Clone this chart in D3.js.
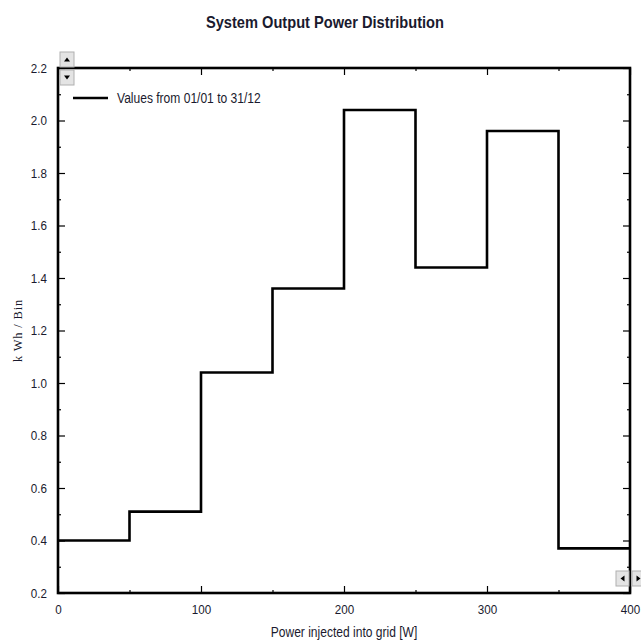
<!DOCTYPE html>
<html>
<head>
<meta charset="utf-8">
<script src="https://cdn.jsdelivr.net/npm/d3@7"></script>
<style>
  body { margin: 0; background: #fff; }
  text { font-family: "Liberation Sans Narrow", "Arial Narrow", "Liberation Sans", sans-serif; fill: #1a1a2e; }
</style>
</head>
<body>
<svg id="chart" width="641" height="641"></svg>
<script>
// bins of injected power [W] and energy per bin
const binEdges = [0, 50, 100, 150, 200, 250, 300, 350, 400];
const binValues = [0.40, 0.51, 1.04, 1.36, 2.04, 1.44, 1.96, 0.37];
const xTicks = [0, 100, 200, 300, 400];
const yTicks = [0.2, 0.4, 0.6, 0.8, 1.0, 1.2, 1.4, 1.6, 1.8, 2.0, 2.2];

const margin = { left: 58, right: 11, top: 68, bottom: 48 };
const width = 641, height = 641;
const innerWidth = width - margin.left - margin.right;
const innerHeight = height - margin.top - margin.bottom;

const svg = d3.select("#chart");
const g = svg.append("g").attr("transform", `translate(${margin.left},${margin.top})`);

const x = d3.scaleLinear().domain([0, 400]).range([0, innerWidth]);
const y = d3.scaleLinear().domain([0.2, 2.2]).range([innerHeight, 0]);

// step line
let pts = [];
binValues.forEach((v, i) => {
    pts.push([binEdges[i], v]);
    pts.push([binEdges[i + 1], v]);
});
const line = d3.line().x(d => x(d[0])).y(d => y(d[1]));
g.append("path")
    .datum(pts)
    .attr("d", line)
    .attr("fill", "none")
    .attr("stroke", "#000")
    .attr("stroke-width", 2.6);

// axes, ticks pointing inward
const yMinor = d3.range(0.3, 2.2, 0.2);
const xMinor = [50, 150, 250, 350];

function axisStyle(sel) {
    sel.select(".domain").remove();
    sel.selectAll("line").attr("stroke", "#000").attr("stroke-width", 1.2);
    sel.selectAll("text").style("font-size", "13.5px");
}

g.append("g")
    .call(d3.axisLeft(y).tickValues(yTicks).tickSize(-7).tickPadding(11).tickFormat(d3.format(".1f")))
    .call(axisStyle);
g.append("g")
    .call(d3.axisLeft(y).tickValues(yMinor).tickSize(-3).tickFormat(""))
    .call(axisStyle);
g.append("g")
    .attr("transform", `translate(${innerWidth},0)`)
    .call(d3.axisRight(y).tickValues(yTicks).tickSize(-7).tickFormat(""))
    .call(axisStyle);
g.append("g")
    .attr("transform", `translate(${innerWidth},0)`)
    .call(d3.axisRight(y).tickValues(yMinor).tickSize(-3).tickFormat(""))
    .call(axisStyle);

g.append("g")
    .attr("transform", `translate(0,${innerHeight})`)
    .call(d3.axisBottom(x).tickValues(xTicks).tickSize(-7).tickPadding(11))
    .call(axisStyle);
g.append("g")
    .attr("transform", `translate(0,${innerHeight})`)
    .call(d3.axisBottom(x).tickValues(xMinor).tickSize(-3).tickFormat(""))
    .call(axisStyle);
g.append("g")
    .call(d3.axisTop(x).tickValues(xTicks).tickSize(-7).tickFormat(""))
    .call(axisStyle);
g.append("g")
    .call(d3.axisTop(x).tickValues(xMinor).tickSize(-3).tickFormat(""))
    .call(axisStyle);

// frame
g.append("rect")
    .attr("width", innerWidth)
    .attr("height", innerHeight)
    .attr("fill", "none")
    .attr("stroke", "#000")
    .attr("stroke-width", 2.6);

// title and axis labels
svg.append("text")
    .attr("x", 325).attr("y", 28)
    .attr("text-anchor", "middle")
    .style("font-size", "17px").style("font-weight", "bold")
    .attr("class", "narrow")
    .text("System Output Power Distribution");

svg.append("text")
    .attr("x", margin.left + innerWidth / 2).attr("y", 637)
    .attr("text-anchor", "middle")
    .style("font-size", "14px")
    .attr("class", "narrow")
    .text("Power injected into grid [W]");

svg.append("text")
    .attr("transform", `translate(22,${margin.top + innerHeight / 2}) rotate(-90)`)
    .attr("text-anchor", "middle")
    .style("font-family", "'Liberation Serif', serif")
    .style("font-size", "12.5px")
    .style("letter-spacing", "0.8px")
    .text("k Wh / Bin");

// legend
const legend = svg.append("g").attr("transform", "translate(73,98)");
legend.append("line")
    .attr("x1", 0).attr("x2", 35)
    .attr("stroke", "#000").attr("stroke-width", 2.6);
legend.append("text")
    .attr("x", 44).attr("y", 5)
    .style("font-size", "14px")
    .attr("class", "narrow")
    .text("Values from 01/01 to 31/12");

// squeeze the sans texts to look like a narrow face
svg.selectAll(".tick text, text.narrow").each(function() {
    const len = this.getComputedTextLength();
    d3.select(this).attr("textLength", len * 0.86).attr("lengthAdjust", "spacingAndGlyphs");
});

// little scroll buttons
function button(x0, y0, w, h, dir) {
    const b = svg.append("g").attr("transform", `translate(${x0},${y0})`);
    b.append("rect").attr("width", w).attr("height", h)
        .attr("fill", "#e4e4e4").attr("stroke", "#b0b0b0");
    const cx = w / 2, cy = h / 2;
    let p;
    if (dir === "up") p = [[cx - 3, cy + 2], [cx + 3, cy + 2], [cx, cy - 2]];
    if (dir === "down") p = [[cx - 3, cy - 2], [cx + 3, cy - 2], [cx, cy + 2]];
    if (dir === "left") p = [[cx + 2, cy - 3], [cx + 2, cy + 3], [cx - 2, cy]];
    if (dir === "right") p = [[cx - 2, cy - 3], [cx - 2, cy + 3], [cx + 2, cy]];
    b.append("path").attr("d", "M" + p.join("L") + "Z").attr("fill", "#000");
}
button(60, 52, 14, 15, "up");
button(60, 70, 14, 15, "down");
button(616, 571, 13, 15, "left");
button(632, 571, 13, 15, "right");
</script>
</body>
</html>
